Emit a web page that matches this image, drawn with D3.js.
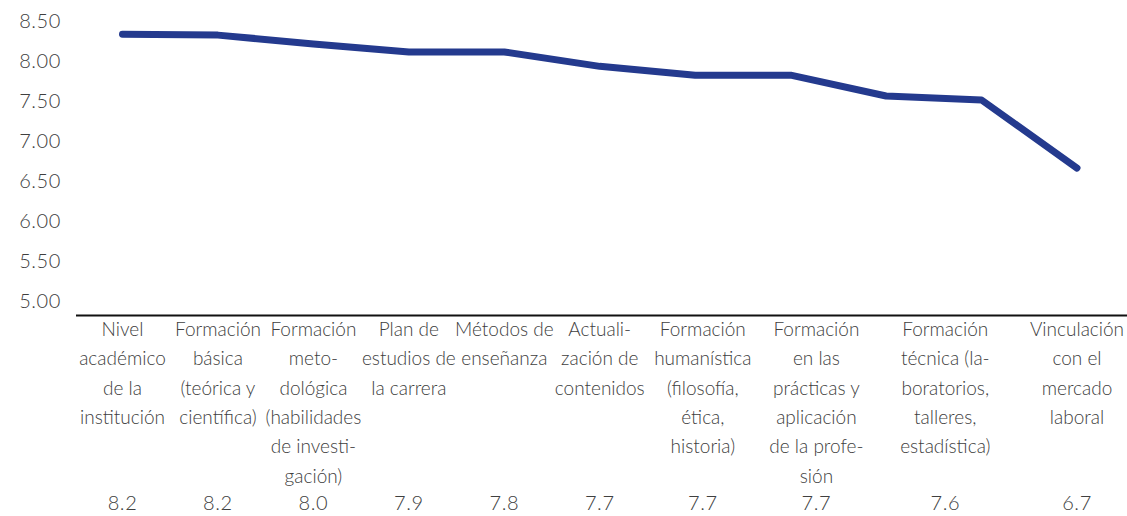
<!DOCTYPE html>
<html>
<head>
<meta charset="utf-8">
<script src="https://cdn.jsdelivr.net/npm/d3@7/dist/d3.min.js"></script>
<style>
  html, body { margin: 0; padding: 0; background: #fff; }
  svg { display: block; font-family: Lato, "Open Sans", sans-serif; }
</style>
</head>
<body>
<svg id="chart" width="1127" height="516"></svg>
<script>
// Average score per evaluated aspect (line series, 11 points)
const lineValues = [8.33, 8.32, 8.21, 8.11, 8.11, 7.93, 7.82, 7.82, 7.56, 7.51, 6.66];

// Aspects listed under the axis, already broken into lines
const categories = [
  ["Nivel", "académico", "de la", "institución"],
  ["Formación", "básica", "(teórica y", "científica)"],
  ["Formación", "meto-", "dológica", "(habilidades", "de investi-", "gación)"],
  ["Plan de", "estudios de", "la carrera"],
  ["Métodos de", "enseñanza"],
  ["Actuali-", "zación de", "contenidos"],
  ["Formación", "humanística", "(filosofía,", "ética,", "historia)"],
  ["Formación", "en las", "prácticas y", "aplicación", "de la profe-", "sión"],
  ["Formación", "técnica (la-", "boratorios,", "talleres,", "estadística)"],
  ["Vinculación", "con el", "mercado", "laboral"]
];

// Score printed under each aspect
const tableValues = [8.2, 8.2, 8.0, 7.9, 7.8, 7.7, 7.7, 7.7, 7.6, 6.7];

// Y axis tick labels
const yTicks = [5.0, 5.5, 6.0, 6.5, 7.0, 7.5, 8.0, 8.5];

// Where each aspect column sits along the line's index scale
const columnSlots = [0, 1, 2, 3, 4, 5, 6.08, 7.27, 8.62, 10];

const svg = d3.select("#chart");
const textColor = "#404040";

const x = d3.scaleLinear().domain([0, lineValues.length - 1]).range([122.5, 1077]);
const y = d3.scaleLinear().domain([5, 8.5]).range([301, 20.7]);

// Y tick labels (no axis line, no gridlines)
svg.append("g")
  .selectAll("text")
  .data(yTicks)
  .join("text")
  .attr("x", 61)
  .attr("y", d => y(d))
  .attr("dy", "0.35em")
  .attr("text-anchor", "end")
  .attr("fill", textColor)
  .attr("font-size", 20)
  .attr("letter-spacing", 0.6)
  .attr("font-weight", 300)
  .text(d => d3.format(".2f")(d));

// Category axis line
svg.append("line")
  .attr("x1", 76).attr("x2", 1127)
  .attr("y1", 315.5).attr("y2", 315.5)
  .attr("stroke", "#111")
  .attr("stroke-width", 2.2);

// Series line
const line = d3.line()
  .x((d, i) => x(i))
  .y(d => y(d));

svg.append("path")
  .datum(lineValues)
  .attr("d", line)
  .attr("fill", "none")
  .attr("stroke", "#243a8e")
  .attr("stroke-width", 7)
  .attr("stroke-linecap", "round")
  .attr("stroke-linejoin", "round");

// Category labels
const labels = svg.append("g");
categories.forEach((lines, i) => {
  const t = labels.append("text")
    .attr("text-anchor", "middle")
    .attr("fill", textColor)
    .attr("font-size", 19)
    .attr("font-weight", 300);
  lines.forEach((s, j) => {
    t.append("tspan")
      .attr("x", x(columnSlots[i]))
      .attr("y", 336 + j * 29.3)
      .text(s);
  });
});

// Values row
svg.append("g")
  .selectAll("text")
  .data(tableValues)
  .join("text")
  .attr("x", (d, i) => x(columnSlots[i]))
  .attr("y", 510)
  .attr("text-anchor", "middle")
  .attr("fill", textColor)
  .attr("font-size", 20)
  .attr("letter-spacing", 0.6)
  .attr("font-weight", 300)
  .text(d => d3.format(".1f")(d));
</script>
</body>
</html>
